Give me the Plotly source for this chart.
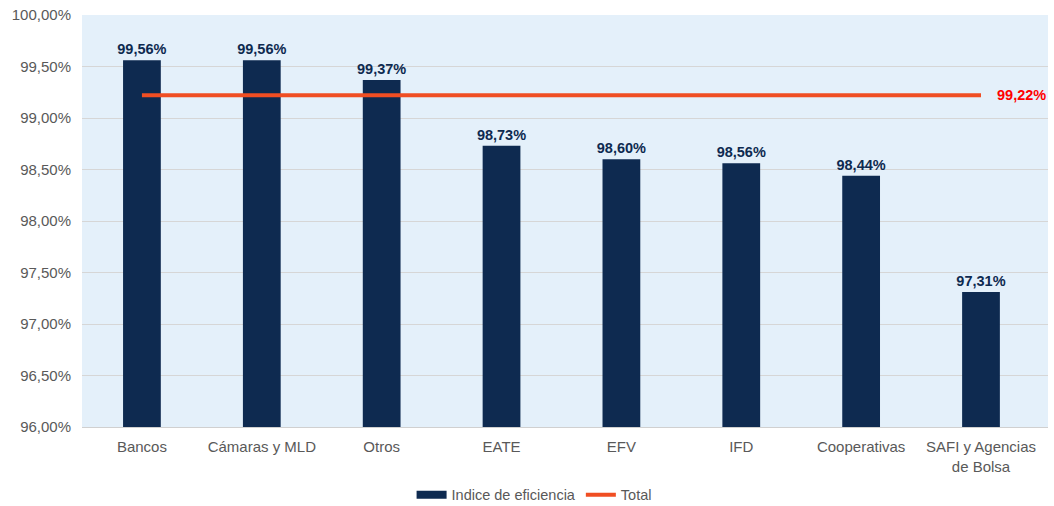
import plotly.graph_objects as go

categories = ["Bancos", "Cámaras y MLD", "Otros", "EATE", "EFV", "IFD",
              "Cooperativas", "SAFI y Agencias<br>de Bolsa"]
eficiencia = [99.56, 99.56, 99.37, 98.73, 98.60, 98.56, 98.44, 97.31]
total_value = 99.22
total = [total_value] * len(categories)

NAVY = "#0E2A50"
ORANGE = "#F04E23"
GREY_TEXT = "#595959"
FONT = "Liberation Sans, Arial, sans-serif"

fig = go.Figure()

fig.add_trace(go.Bar(
    x=categories,
    y=eficiencia,
    name="Indice de eficiencia",
    showlegend=False,
    marker=dict(color=NAVY, line=dict(width=0)),
    texttemplate="<b>%{y:.2f}%</b>",
    textposition="outside",
    constraintext="none",
    textfont=dict(color=NAVY, size=14.5, family=FONT),
    cliponaxis=False,
))

# legend entry drawn as a wide flat swatch for the bar series
fig.add_trace(go.Scatter(
    x=[None], y=[None],
    name="Indice de eficiencia",
    mode="lines",
    line=dict(color=NAVY, width=8),
    hoverinfo="skip",
))

fig.add_trace(go.Scatter(
    x=categories,
    y=total,
    name="Total",
    mode="lines",
    line=dict(color=ORANGE, width=4),
))

fig.add_annotation(
    x=categories[-1], y=total_value,
    text=f"<b>{total_value:.2f}%</b>".replace(".", ","),
    showarrow=False,
    xanchor="left", yanchor="middle",
    xshift=14,
    font=dict(color="#FF0000", size=14.5, family=FONT),
)

fig.update_layout(
    width=1054, height=506,
    margin=dict(l=82, r=6, t=15, b=79, autoexpand=False),
    paper_bgcolor="white",
    plot_bgcolor="#E4F0FA",
    separators=",.",
    bargap=0.685,
    font=dict(family=FONT, size=15, color=GREY_TEXT),
    showlegend=True,
    legend=dict(
        orientation="h",
        x=0.468, xanchor="center",
        yref="container",
        y=0.022, yanchor="middle",
        font=dict(size=14.5, color=GREY_TEXT),
        traceorder="normal",
    ),
)

fig.update_xaxes(
    automargin=False,
    showgrid=False,
    showline=True, linecolor="#D0D0D0", linewidth=1,
    ticks="",
    ticklabelstandoff=6,
    tickfont=dict(size=15, color=GREY_TEXT),
)

fig.update_yaxes(
    automargin=False,
    range=[96, 100],
    dtick=0.5,
    tickformat=".2f",
    ticksuffix="%",
    showgrid=True, gridcolor="#D6D6D6", gridwidth=1,
    zeroline=False,
    showline=False,
    ticks="",
    ticklabelstandoff=10,
    tickfont=dict(size=15, color=GREY_TEXT),
)

fig.write_html("out.html")
